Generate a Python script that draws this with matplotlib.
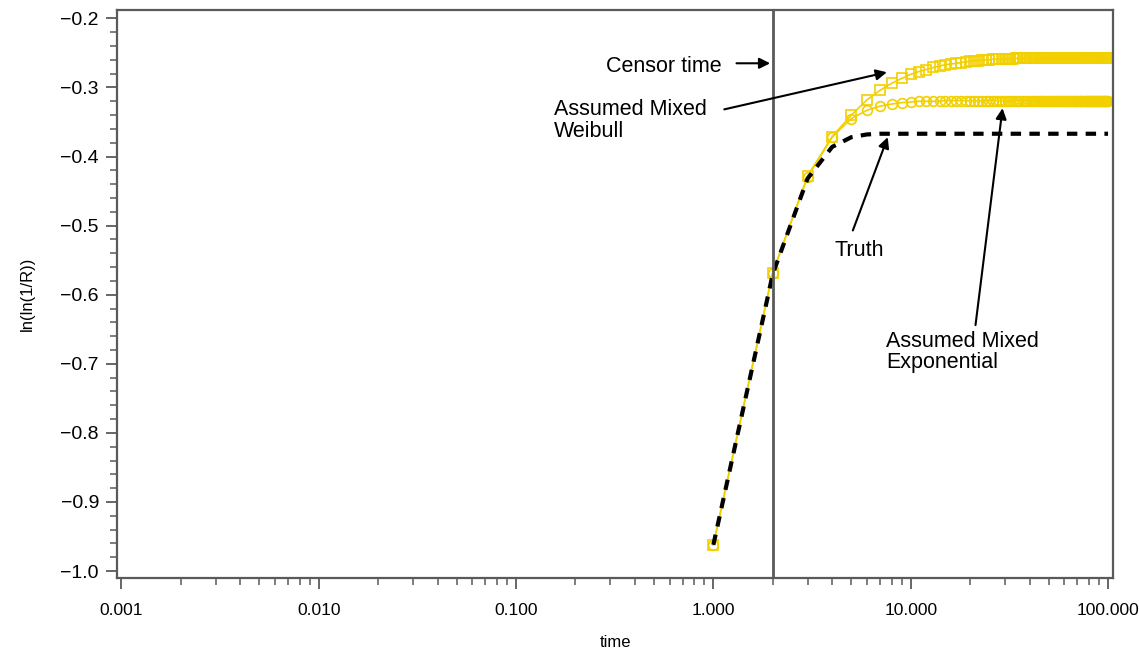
import matplotlib
matplotlib.use("Agg")
import matplotlib.pyplot as plt
from matplotlib.ticker import MultipleLocator, LogLocator, FixedLocator, FixedFormatter

plt.rcParams['font.family'] = ['Liberation Sans', 'DejaVu Sans']

# time points 1..100
time = list(range(1, 101))

weibull = [
    -0.962, -0.568, -0.428, -0.371, -0.340, -0.318, -0.304, -0.294, -0.287, -0.281,
    -0.277, -0.274, -0.271, -0.269, -0.267, -0.266, -0.265, -0.264, -0.263, -0.262,
    -0.261, -0.261, -0.260, -0.260, -0.260, -0.259, -0.259, -0.259, -0.259, -0.259,
    -0.259, -0.259, -0.259, -0.258, -0.258, -0.258, -0.258, -0.258, -0.258, -0.258,
    -0.258, -0.258, -0.258, -0.258, -0.258, -0.258, -0.258, -0.258, -0.258, -0.258,
    -0.258, -0.258, -0.258, -0.258, -0.258, -0.258, -0.258, -0.258, -0.258, -0.258,
    -0.258, -0.258, -0.258, -0.258, -0.258, -0.258, -0.258, -0.258, -0.258, -0.258,
    -0.258, -0.258, -0.258, -0.258, -0.258, -0.258, -0.258, -0.258, -0.258, -0.258,
    -0.258, -0.258, -0.258, -0.258, -0.258, -0.258, -0.258, -0.258, -0.258, -0.258,
    -0.258, -0.258, -0.258, -0.258, -0.258, -0.258, -0.258, -0.258, -0.258, -0.258,
]

exponential = [
    -0.962, -0.568, -0.430, -0.372, -0.345, -0.333, -0.327, -0.324, -0.322, -0.321,
    -0.320, -0.320, -0.320, -0.320, -0.319, -0.319, -0.319, -0.319, -0.319, -0.319,
    -0.319, -0.319, -0.319, -0.319, -0.319, -0.319, -0.319, -0.319, -0.319, -0.319,
    -0.319, -0.319, -0.319, -0.319, -0.319, -0.319, -0.319, -0.319, -0.319, -0.319,
    -0.319, -0.319, -0.319, -0.319, -0.319, -0.319, -0.319, -0.319, -0.319, -0.319,
    -0.319, -0.319, -0.319, -0.319, -0.319, -0.319, -0.319, -0.319, -0.319, -0.319,
    -0.319, -0.319, -0.319, -0.319, -0.319, -0.319, -0.319, -0.319, -0.319, -0.319,
    -0.319, -0.319, -0.319, -0.319, -0.319, -0.319, -0.319, -0.319, -0.319, -0.319,
    -0.319, -0.319, -0.319, -0.319, -0.319, -0.319, -0.319, -0.319, -0.319, -0.319,
    -0.319, -0.319, -0.319, -0.319, -0.319, -0.319, -0.319, -0.319, -0.319, -0.319,
]

truth = [
    -0.962, -0.570, -0.432, -0.386, -0.372, -0.368, -0.367, -0.367, -0.367, -0.367,
    -0.367, -0.367, -0.367, -0.367, -0.367, -0.367, -0.367, -0.367, -0.367, -0.367,
    -0.367, -0.367, -0.367, -0.367, -0.367, -0.367, -0.367, -0.367, -0.367, -0.367,
    -0.367, -0.367, -0.367, -0.367, -0.367, -0.367, -0.367, -0.367, -0.367, -0.367,
    -0.367, -0.367, -0.367, -0.367, -0.367, -0.367, -0.367, -0.367, -0.367, -0.367,
    -0.367, -0.367, -0.367, -0.367, -0.367, -0.367, -0.367, -0.367, -0.367, -0.367,
    -0.367, -0.367, -0.367, -0.367, -0.367, -0.367, -0.367, -0.367, -0.367, -0.367,
    -0.367, -0.367, -0.367, -0.367, -0.367, -0.367, -0.367, -0.367, -0.367, -0.367,
    -0.367, -0.367, -0.367, -0.367, -0.367, -0.367, -0.367, -0.367, -0.367, -0.367,
    -0.367, -0.367, -0.367, -0.367, -0.367, -0.367, -0.367, -0.367, -0.367, -0.367,
]

censor_time = 2.0

x_ticks = [0.001, 0.01, 0.1, 1, 10, 100]
x_tick_labels = ['0.001', '0.010', '0.100', '1.000', '10.000', '100.000']
y_ticks = [-1.0, -0.9, -0.8, -0.7, -0.6, -0.5, -0.4, -0.3, -0.2]
y_tick_labels = ['\u22121.0', '\u22120.9', '\u22120.8', '\u22120.7', '\u22120.6',
                 '\u22120.5', '\u22120.4', '\u22120.3', '\u22120.2']

gold = '#F2D000'
frame = '#5a5a5a'

fig = plt.figure(figsize=(11.39, 6.55), dpi=100)
ax = fig.add_axes([0.1027, 0.1176, 0.8745, 0.867])

ax.plot(time, weibull, color=gold, lw=1.2, marker='s', markersize=7,
        markerfacecolor='none', markeredgecolor=gold, markeredgewidth=1.2)
ax.plot(time, exponential, color=gold, lw=1.2, marker='o', markersize=7,
        markerfacecolor='none', markeredgecolor=gold, markeredgewidth=1.2)
ax.plot(time, truth, color='black', lw=3, linestyle=(0, (2.5, 2)))

ax.axvline(censor_time, color=frame, lw=2)

ax.set_xscale('log')
ax.set_xlim(0.00095, 106)
ax.set_ylim(-1.01, -0.188)

ax.xaxis.set_major_locator(FixedLocator(x_ticks))
ax.xaxis.set_major_formatter(FixedFormatter(x_tick_labels))
ax.xaxis.set_minor_locator(LogLocator(base=10, subs=range(2, 10), numticks=20))
ax.yaxis.set_major_locator(FixedLocator(y_ticks))
ax.yaxis.set_major_formatter(FixedFormatter(y_tick_labels))
ax.yaxis.set_minor_locator(MultipleLocator(0.02))

ax.tick_params(axis='both', which='major', length=8, width=1.3, color=frame,
               labelcolor='black')
ax.tick_params(axis='x', which='major', pad=10, labelsize=12.5)
ax.tick_params(axis='y', which='major', pad=5, labelsize=14)
ax.tick_params(axis='both', which='minor', length=5, width=1.1, color=frame)

for sp in ax.spines.values():
    sp.set_color(frame)
    sp.set_linewidth(1.6)

ax.set_xlabel('time', fontsize=12, labelpad=12)
ax.set_ylabel('ln(ln(1/R))', fontsize=12, labelpad=18)

arrow = dict(arrowstyle='-|>', color='black', lw=1.5, mutation_scale=16,
             shrinkA=0, shrinkB=0)
fs = 15.5

ax.text(1.1, -0.269, 'Censor time', ha='right', va='center', fontsize=fs)
ax.annotate('', xy=(1.94, -0.265), xytext=(1.31, -0.265), arrowprops=arrow)

ax.text(0.156, -0.3476, 'Assumed Mixed\nWeibull', ha='left', va='center',
        fontsize=fs, linespacing=1.05)
ax.annotate('', xy=(7.57, -0.278), xytext=(1.136, -0.3317), arrowprops=arrow)

ax.text(5.46, -0.5357, 'Truth', ha='center', va='center', fontsize=fs)
ax.annotate('', xy=(7.65, -0.372), xytext=(5.09, -0.507), arrowprops=arrow)

ax.text(7.48, -0.683, 'Assumed Mixed\nExponential', ha='left', va='center',
        fontsize=fs, linespacing=1.05)
ax.annotate('', xy=(29.2, -0.330), xytext=(21.3, -0.644), arrowprops=arrow)

fig.savefig('out.png', dpi=100)
